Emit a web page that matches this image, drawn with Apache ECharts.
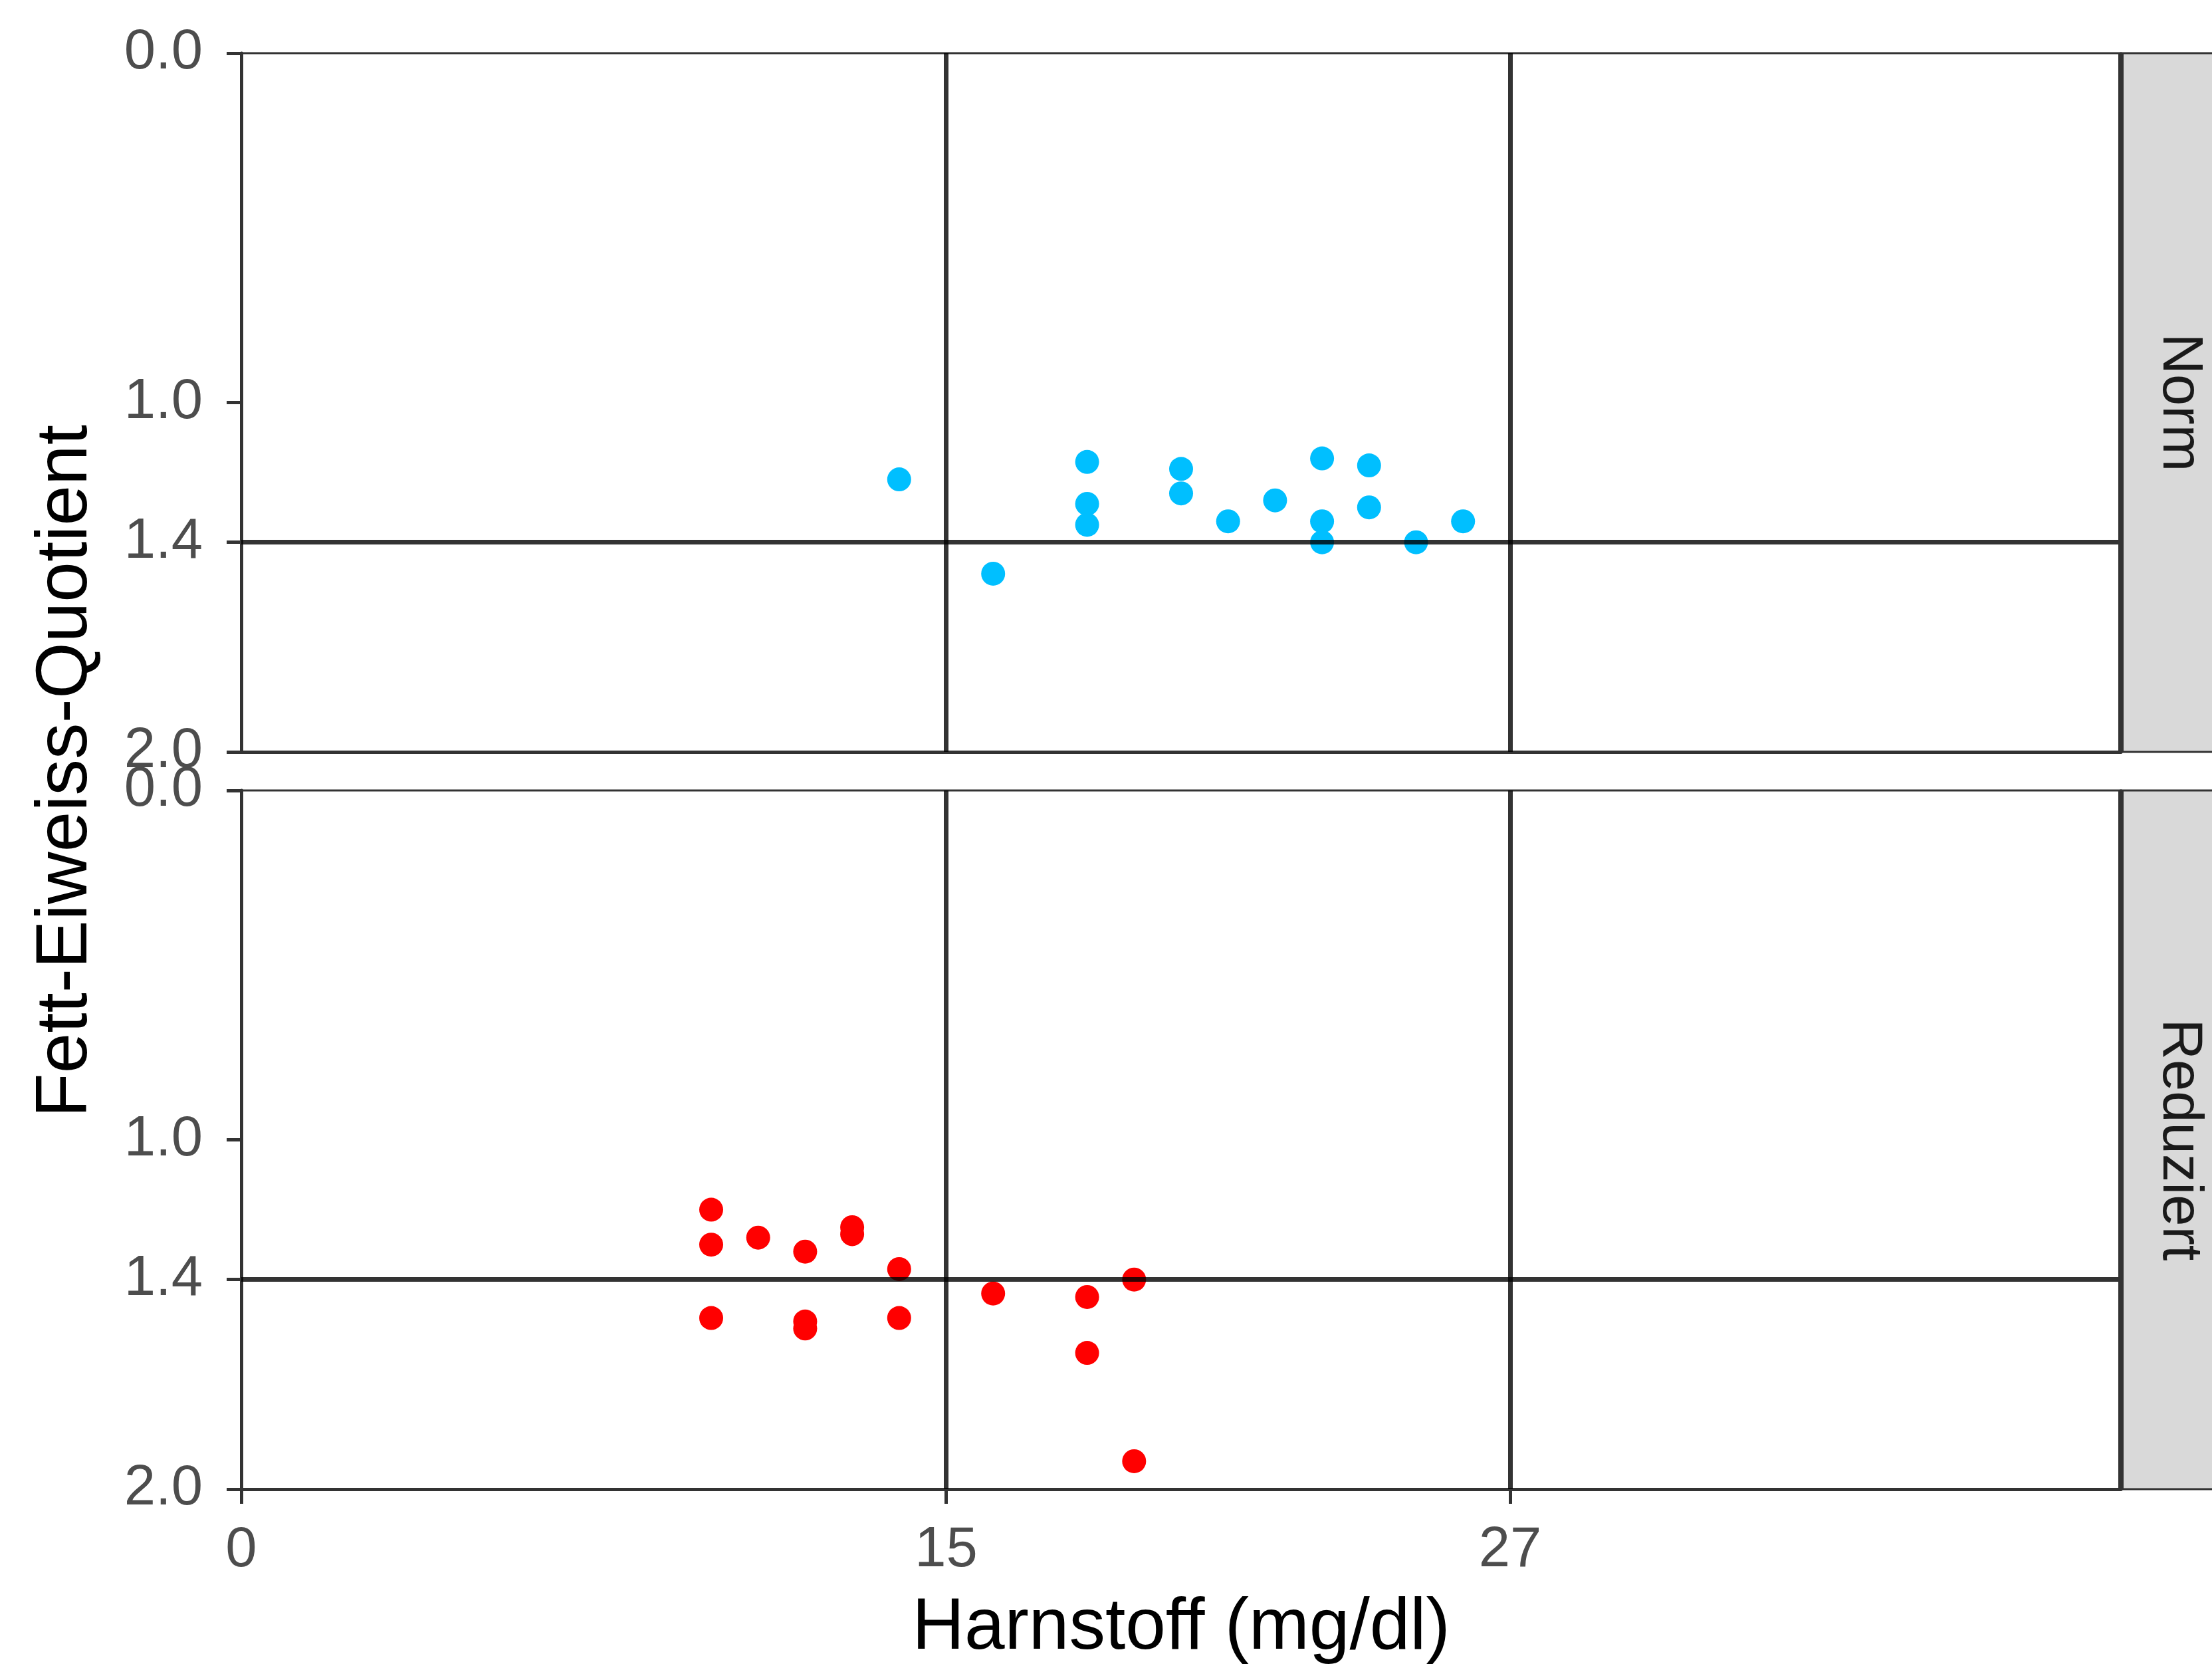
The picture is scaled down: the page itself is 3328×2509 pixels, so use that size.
<!DOCTYPE html>
<html>
<head>
<meta charset="utf-8">
<script src="https://cdn.jsdelivr.net/npm/echarts@6/dist/echarts.min.js"></script>
<style>
  html, body { margin: 0; padding: 0; background: #fff; }
  #chart { width: 3328px; height: 2509px; }
</style>
</head>
<body>
<div id="chart"></div>
<script>
// Fett-Eiweiss-Quotient vs. Harnstoff, facetted by Fütterung
var panels = ['Norm', 'Reduziert'];
var panelColors = ['#00bfff', '#ff0000'];

var normX = [14, 16, 18, 18, 18, 20, 20, 21, 22, 23, 23, 23, 24, 24, 25, 26];
var normY = [1.22, 1.49, 1.17, 1.29, 1.35, 1.19, 1.26, 1.34, 1.28, 1.16, 1.34, 1.40, 1.18, 1.30, 1.40, 1.34];

var redX = [10, 10, 10, 11, 12, 12, 12, 13, 13, 14, 14, 16, 18, 18, 19, 19];
var redY = [1.20, 1.30, 1.51, 1.28, 1.32, 1.52, 1.54, 1.25, 1.27, 1.37, 1.51, 1.44, 1.45, 1.61, 1.40, 1.92];

var xTicks = [0, 15, 27];
var yTicks = [0, 1.0, 1.4, 2.0];
var refX = [15, 27];
var refY = [1.4];

var xTitle = 'Harnstoff (mg/dl)';
var yTitle = 'Fett-Eiweiss-Quotient';

var font = 'Liberation Sans, Arial, sans-serif';

// layout (pixels)
var L = 363, R = 3191;
var panelTop = [80, 1189];
var panelH = 1051;

function zip(xs, ys) {
  return xs.map(function (x, i) { return [x, ys[i]]; });
}

var grids = [], xAxes = [], yAxes = [], series = [], graphics = [];

panels.forEach(function (name, i) {
  var isBottom = i === panels.length - 1;
  grids.push({
    left: L, top: panelTop[i], width: R - L, height: panelH,
    show: true, borderColor: '#333', borderWidth: 3, backgroundColor: '#fff'
  });
  xAxes.push({
    gridIndex: i, type: 'value', min: 0, max: 40,
    axisLine: { show: true, onZero: false, lineStyle: { color: '#333', width: 5 } },
    axisTick: { show: isBottom, length: 22, customValues: xTicks, lineStyle: { color: '#333', width: 5 } },
    axisLabel: {
      show: isBottom, customValues: xTicks, margin: 50,
      color: '#4d4d4d', fontSize: 85, fontFamily: font
    },
    splitLine: { show: false }
  });
  yAxes.push({
    gridIndex: i, type: 'value', min: 0, max: 2, inverse: true,
    axisLine: { show: true, onZero: false, lineStyle: { color: '#333', width: 5 } },
    axisTick: { show: true, length: 22, customValues: yTicks, lineStyle: { color: '#333', width: 5 } },
    axisLabel: {
      customValues: yTicks, margin: 58, showMinLabel: true, showMaxLabel: true,
      color: '#4d4d4d', fontSize: 85, fontFamily: font,
      formatter: function (v) { return v.toFixed(1); }
    },
    splitLine: { show: false }
  });

  var lines = refX.map(function (v) { return { xAxis: v }; })
    .concat(refY.map(function (v) { return { yAxis: v }; }));

  series.push({
    name: name,
    type: 'scatter',
    xAxisIndex: i,
    yAxisIndex: i,
    symbolSize: 36,
    itemStyle: { color: panelColors[i], opacity: 1 },
    data: zip(i === 0 ? normX : redX, i === 0 ? normY : redY),
    markLine: {
      silent: true,
      symbol: 'none',
      label: { show: false },
      lineStyle: { color: '#000', width: 7, type: 'solid', opacity: 0.8 },
      data: lines
    }
  });

  // facet strip on the right
  graphics.push({
    type: 'rect', z: 10,
    shape: { x: R, y: panelTop[i], width: 200, height: panelH },
    style: { fill: '#d9d9d9', stroke: '#333', lineWidth: 3 }
  });
  graphics.push({
    type: 'line', z: 11,
    shape: { x1: R, y1: panelTop[i], x2: R, y2: panelTop[i] + panelH },
    style: { stroke: '#333', lineWidth: 8 }
  });
  graphics.push({
    type: 'text', z: 12,
    x: 3278, y: panelTop[i] + panelH / 2,
    rotation: -Math.PI / 2,
    style: {
      text: name, fill: '#1a1a1a', fontSize: 85, fontFamily: font,
      align: 'center', verticalAlign: 'middle'
    }
  });
});

// axis titles
graphics.push({
  type: 'text', z: 12,
  x: (L + R) / 2, y: 2450,
  style: {
    text: xTitle, fill: '#000', fontSize: 109, fontFamily: font,
    align: 'center', verticalAlign: 'middle'
  }
});
graphics.push({
  type: 'text', z: 12,
  x: 100, y: (panelTop[0] + panelTop[1] + panelH) / 2,
  rotation: Math.PI / 2,
  style: {
    text: yTitle, fill: '#000', fontSize: 109, fontFamily: font,
    align: 'center', verticalAlign: 'middle'
  }
});

var chart = echarts.init(document.getElementById('chart'), null, { renderer: 'canvas' });
chart.setOption({
  backgroundColor: '#fff',
  animation: false,
  grid: grids,
  xAxis: xAxes,
  yAxis: yAxes,
  series: series,
  graphic: graphics
});
</script>
</body>
</html>
